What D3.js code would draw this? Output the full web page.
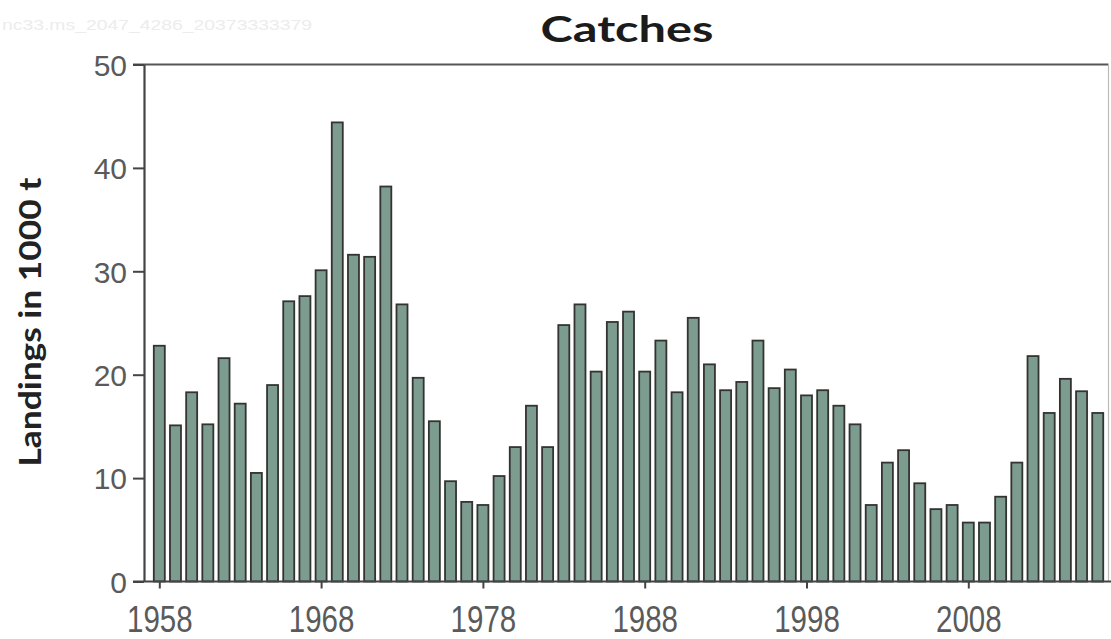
<!DOCTYPE html>
<html>
<head>
<meta charset="utf-8">
<script src="https://cdn.jsdelivr.net/npm/d3@7"></script>
<style>
	html, body { margin: 0; padding: 0; background: #fff; }
	#app { width: 1111px; height: 639px; }
</style>
</head>
<body>
<div id="app"></div>
<script>
// landings per year (1000 t)
const years = d3.range(1958, 2017);
const landings = [
	22.8, 15.1, 18.3, 15.2, 21.6, 17.2, 10.5, 19.0, 27.1, 27.6,
	30.1, 44.4, 31.6, 31.4, 38.2, 26.8, 19.7, 15.5, 9.7, 7.7,
	7.4, 10.2, 13.0, 17.0, 13.0, 24.8, 26.8, 20.3, 25.1, 26.1,
	20.3, 23.3, 18.3, 25.5, 21.0, 18.5, 19.3, 23.3, 18.7, 20.5,
	18.0, 18.5, 17.0, 15.2, 7.4, 11.5, 12.7, 9.5, 7.0, 7.4,
	5.7, 5.7, 8.2, 11.5, 21.8, 16.3, 19.6, 18.4, 16.3
];
const yearTicks = [1958, 1968, 1978, 1988, 1998, 2008];
const valueTicks = [0, 10, 20, 30, 40, 50];

const outerWidth = 1111,
	outerHeight = 639,
	margin = { top: 64.5, right: 2.5, bottom: 57.5, left: 144 },
	width = outerWidth - margin.left - margin.right,
	height = outerHeight - margin.top - margin.bottom;

const svg = d3.select('#app').append('svg')
	.attr('width', outerWidth)
	.attr('height', outerHeight);

// faint scan stamp, top left
svg.append('text')
	.attr('x', 2)
	.attr('y', 30)
	.attr('fill', '#ececec')
	.attr('font-family', 'Liberation Sans, Arial, sans-serif')
	.attr('font-size', 14)
	.attr('textLength', 310)
	.attr('lengthAdjust', 'spacingAndGlyphs')
	.text('nc33.ms_2047_4286_20373333379');

const graph = svg.append('g')
	.attr('transform', `translate(${ margin.left }, ${ margin.top })`);

const x = d3.scaleLinear()
	.domain([1958, 2008])
	.range([159.3 - margin.left, 968.3 - margin.left]);

const y = d3.scaleLinear()
	.domain([0, 50])
	.range([height, 0]);

const barWidth = 11;

// frame: top and right
graph.append('line')
	.attr('x1', -11).attr('x2', width)
	.attr('y1', y(50)).attr('y2', y(50))
	.attr('stroke', '#555').attr('stroke-width', 2.2);
graph.append('line')
	.attr('x1', width).attr('x2', width)
	.attr('y1', y(50)).attr('y2', height)
	.attr('stroke', '#bbb').attr('stroke-width', 1.2);

// bars
graph.append('g')
	.attr('fill', '#7c9c8f')
	.attr('stroke', '#333')
	.attr('stroke-width', 1.8)
.selectAll('rect')
.data(years)
.enter().append('rect')
	.attr('x', function(d) { return x(d) - barWidth / 2; })
	.attr('y', function(d, i) { return y(landings[i]); })
	.attr('width', barWidth)
	.attr('height', function(d, i) { return height - y(landings[i]); });

// x axis
const xAxis = graph.append('g')
	.attr('transform', 'translate(0,' + height + ')')
	.call(d3.axisBottom(x)
		.tickValues(yearTicks)
		.tickFormat(d3.format('d'))
		.tickSize(7)
		.tickSizeOuter(0));
xAxis.select('.domain')
	.attr('d', `M-11,0H${ width + margin.right }`)
	.attr('stroke', '#444')
	.attr('stroke-width', 2.2);
xAxis.selectAll('.tick line')
	.attr('stroke', '#444')
	.attr('stroke-width', 2);
xAxis.selectAll('.tick text')
	.attr('fill', '#5a5a5a')
	.attr('font-family', 'Liberation Sans, Arial, sans-serif')
	.attr('font-size', 29.5)
	.attr('dy', 0)
	.attr('y', 0)
	.attr('transform', 'translate(0,50.5) scale(1,1.27)');

// y axis
const yAxis = graph.append('g')
	.call(d3.axisLeft(y)
		.tickValues(valueTicks)
		.tickSize(11)
		.tickSizeOuter(0));
yAxis.select('.domain')
	.attr('stroke', '#444')
	.attr('stroke-width', 2.2);
yAxis.selectAll('.tick line')
	.attr('stroke', '#444')
	.attr('stroke-width', 2);
yAxis.selectAll('.tick text')
	.attr('fill', '#5a5a5a')
	.attr('font-family', 'Liberation Sans, Arial, sans-serif')
	.attr('font-size', 30)
	.attr('x', -17)
	.attr('dy', '0.36em');

// title
svg.append('text')
	.attr('x', 627)
	.attr('y', 42)
	.attr('text-anchor', 'middle')
	.attr('fill', '#1b1b1b')
	.attr('font-family', 'Lato, sans-serif')
	.attr('font-weight', 'bold')
	.attr('font-size', 37)
	.attr('textLength', 173)
	.attr('lengthAdjust', 'spacingAndGlyphs')
	.text('Catches');

// y label
svg.append('text')
	.attr('transform', 'translate(41,322) rotate(-90)')
	.attr('text-anchor', 'middle')
	.attr('fill', '#222')
	.attr('font-family', 'Lato, sans-serif')
	.attr('font-weight', 'bold')
	.attr('font-size', 31)
	.attr('textLength', 289)
	.attr('lengthAdjust', 'spacingAndGlyphs')
	.text('Landings in 1000 t');
</script>
</body>
</html>
